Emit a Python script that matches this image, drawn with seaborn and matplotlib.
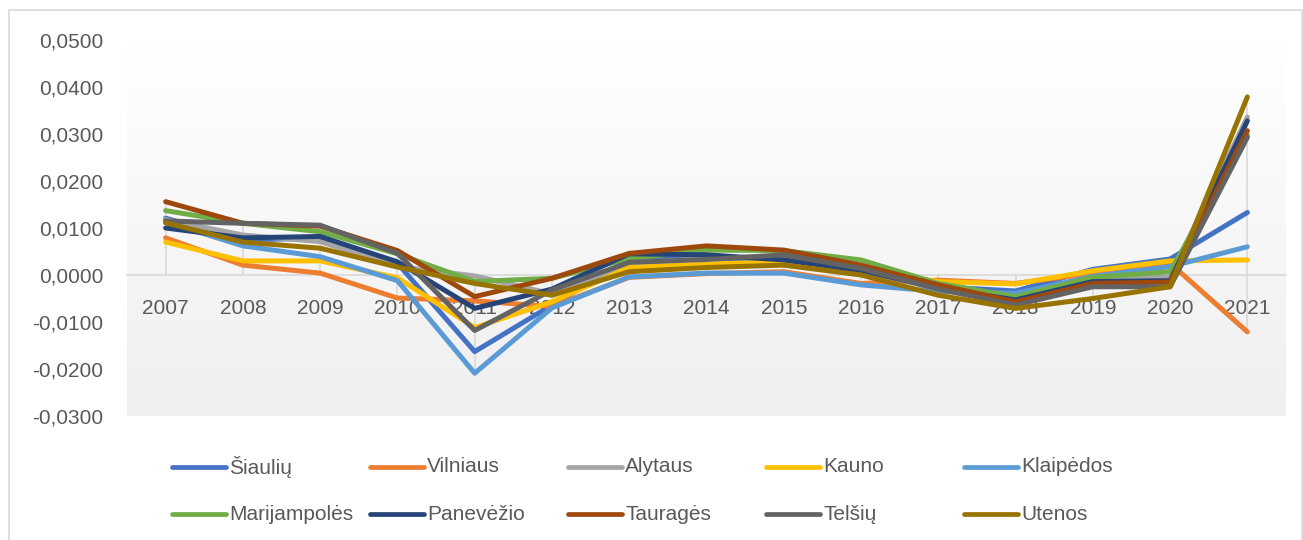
import numpy as np
import pandas as pd
import matplotlib
matplotlib.use('Agg')
import matplotlib.pyplot as plt
from matplotlib.colors import LinearSegmentedColormap
from matplotlib.lines import Line2D
from matplotlib.patches import Rectangle
from matplotlib.ticker import FuncFormatter
import seaborn as sns

years = list(range(2007, 2022))

regions = ['Šiaulių', 'Vilniaus', 'Alytaus', 'Kauno', 'Klaipėdos',
           'Marijampolės', 'Panevėžio', 'Tauragės', 'Telšių', 'Utenos']

siauliu = [0.0121, 0.0075, 0.0078, 0.0025, -0.0163, -0.0064, 0.0033, 0.0035,
           0.0032, 0.0008, -0.0025, -0.0034, 0.0012, 0.0034, 0.0133]
vilniaus = [0.0079, 0.0021, 0.0004, -0.0049, -0.0055, -0.0067, -0.0005, 0.0003,
            0.0007, -0.0018, -0.0011, -0.0018, 0.0004, 0.0025, -0.0121]
alytaus = [0.0118, 0.0085, 0.0071, 0.0018, -0.0002, -0.0040, 0.0025, 0.0035,
           0.0040, 0.0010, -0.0030, -0.0060, -0.0011, -0.0004, 0.0336]
kauno = [0.0070, 0.0030, 0.0030, -0.0006, -0.0112, -0.0057, 0.0016, 0.0023,
         0.0028, 0.0012, -0.0014, -0.0019, 0.0009, 0.0030, 0.0032]
klaipedos = [0.0113, 0.0062, 0.0039, -0.0012, -0.0209, -0.0070, -0.0004, 0.0004,
             0.0004, -0.0021, -0.0035, -0.0039, -0.0003, 0.0018, 0.0060]
marijampoles = [0.0137, 0.0110, 0.0092, 0.0045, -0.0014, -0.0007, 0.0035, 0.0053,
                0.0052, 0.0032, -0.0018, -0.0046, -0.0005, 0.0007, 0.0298]
panevezio = [0.0100, 0.0079, 0.0082, 0.0028, -0.0071, -0.0030, 0.0045, 0.0043,
             0.0032, 0.0010, -0.0028, -0.0053, -0.0014, -0.0012, 0.0328]
taurages = [0.0156, 0.0110, 0.0104, 0.0052, -0.0046, -0.0007, 0.0046, 0.0062,
            0.0053, 0.0021, -0.0021, -0.0057, -0.0018, -0.0015, 0.0307]
telsiu = [0.0115, 0.0110, 0.0106, 0.0046, -0.0118, -0.0032, 0.0027, 0.0033,
          0.0043, 0.0014, -0.0030, -0.0064, -0.0025, -0.0025, 0.0293]
utenos = [0.0111, 0.0070, 0.0057, 0.0017, -0.0018, -0.0043, 0.0007, 0.0016,
          0.0021, 0.0000, -0.0043, -0.0071, -0.0050, -0.0025, 0.0379]

series = [siauliu, vilniaus, alytaus, kauno, klaipedos,
          marijampoles, panevezio, taurages, telsiu, utenos]

colors = ['#4472C4', '#ED7D31', '#A5A5A5', '#FFC000', '#5B9BD5',
          '#70AD47', '#264478', '#9E480E', '#636363', '#997300']

y_ticks = [-0.03, -0.02, -0.01, 0.0, 0.01, 0.02, 0.03, 0.04, 0.05]

# long format table for seaborn
df = pd.DataFrame({
    'Metai': np.tile(years, len(regions)),
    'Apskritis': np.repeat(regions, len(years)),
    'Reikšmė': np.concatenate(series),
})

sns.set_theme(style='white')
plt.rcParams['font.family'] = ['Liberation Sans', 'DejaVu Sans']
text_col = '#595959'
grid_col = '#d9d9d9'

fig = plt.figure(figsize=(13.03, 5.40), dpi=100)
ax = fig.add_axes([127 / 1303, 1 - 416 / 540, (1286 - 127) / 1303, (416 - 40) / 540])

x0, x1 = years[0] - 0.5, years[-1] + 0.5
ax.set_xlim(x0, x1)
ax.set_ylim(y_ticks[0], y_ticks[-1])

# plot area gradient fill: white on top, light grey at the bottom
grad = np.linspace(0, 1, 256).reshape(-1, 1)
cmap = LinearSegmentedColormap.from_list('bg', ['#ffffff', '#efefef'])
ax.imshow(grad, extent=[x0, x1, y_ticks[0], y_ticks[-1]], aspect='auto',
          cmap=cmap, vmin=0, vmax=1, zorder=0, origin='upper')

# drop lines from points to the category axis
vals = np.array(series)
lo = np.minimum(vals.min(axis=0), 0)
hi = np.maximum(vals.max(axis=0), 0)
ax.vlines(years, lo, hi, color=grid_col, lw=1.2, zorder=1)

sns.lineplot(data=df, x='Metai', y='Reikšmė', hue='Apskritis', hue_order=regions,
             palette=colors, lw=3.6, legend=False, ax=ax, zorder=3,
             solid_capstyle='round', solid_joinstyle='round')

for s in ['top', 'right', 'left']:
    ax.spines[s].set_visible(False)
ax.spines['bottom'].set_position(('data', 0))
ax.spines['bottom'].set_color(grid_col)
ax.spines['bottom'].set_linewidth(1.2)
ax.spines['bottom'].set_zorder(1)

ax.set_xticks(years)
ax.set_xticklabels([str(y) for y in years])
ax.set_yticks(y_ticks)
ax.yaxis.set_major_formatter(FuncFormatter(lambda v, p: f'{v:.4f}'.replace('.', ',')))
ax.tick_params(axis='x', length=0, pad=17, labelsize=15, labelcolor=text_col)
ax.tick_params(axis='y', length=0, pad=17, labelsize=15, labelcolor=text_col)
ax.set_xlabel('')
ax.set_ylabel('')
ax.grid(False)

# legend, fixed-width columns like the original
col_x = [172, 370, 568, 766, 964]
row_y = [467, 514]
for i, (name, c) in enumerate(zip(regions, colors)):
    r, k = divmod(i, 5)
    xs = col_x[k]
    yy = 1 - row_y[r] / 540
    fig.add_artist(Line2D([xs / 1303, (xs + 54) / 1303], [yy, yy], color=c, lw=3.4,
                          solid_capstyle='round', transform=fig.transFigure))
    fig.text((xs + 57) / 1303, yy, name, fontsize=15, color=text_col,
             va='center', ha='left')

# chart border
fig.add_artist(Rectangle((9 / 1303, -0.01), 1 - 10 / 1303, 1 - 10 / 540 + 0.01,
                         transform=fig.transFigure, fill=False,
                         edgecolor=grid_col, lw=1.2))

fig.savefig('out.png', dpi=100)
plt.close(fig)
